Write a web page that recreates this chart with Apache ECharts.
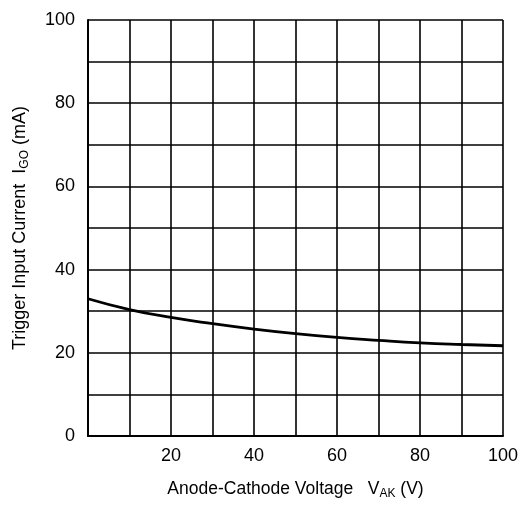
<!DOCTYPE html>
<html>
<head>
<meta charset="utf-8">
<script src="https://cdn.jsdelivr.net/npm/echarts@6/dist/echarts.min.js"></script>
<style>html,body{margin:0;padding:0;background:#fff;}#c{width:523px;height:505px;}</style>
</head>
<body>
<div id="c"></div>
<script>
const voltage = [0, 10, 20, 30, 40, 50, 60, 70, 80, 90, 100];
const current = [33.0, 30.4, 28.5, 27.0, 25.7, 24.6, 23.7, 23.0, 22.4, 22.0, 21.7];
const xTicks = [20, 40, 60, 80, 100];
const yTicks = [0, 20, 40, 60, 80, 100];
const FONT = '"Liberation Sans", Arial, sans-serif';

const chart = echarts.init(document.getElementById('c'));
chart.setOption({
  animation: false,
  grid: {left: 88, right: 20, top: 20, bottom: 69, containLabel: false, outerBoundsMode: 'none'},
  xAxis: {
    type: 'value', min: 0, max: 100, interval: 10,
    axisLine: {show: true, lineStyle: {color: '#000', width: 2}},
    axisTick: {show: false},
    splitLine: {show: true, lineStyle: {color: '#000', width: 1.6}},
    axisLabel: {
      color: '#000', fontFamily: FONT, fontSize: 18, margin: 11,
      formatter: v => xTicks.includes(v) ? String(v) : ''
    },
    name: '{a|Anode-Cathode Voltage   V}{s|AK}{a| (V)}',
    nameLocation: 'middle', nameGap: 44,
    nameTextStyle: {
      rich: {
        a: {fontFamily: FONT, fontSize: 17.5, color: '#000', lineHeight: 18, verticalAlign: 'bottom'},
        s: {fontFamily: FONT, fontSize: 12, color: '#000', lineHeight: 18, verticalAlign: 'bottom', padding: [0, 0, -2, 0]}
      }
    }
  },
  yAxis: {
    type: 'value', min: 0, max: 100, interval: 10,
    axisLine: {show: true, lineStyle: {color: '#000', width: 2}},
    axisTick: {show: false},
    splitLine: {show: true, lineStyle: {color: '#000', width: 1.6}},
    axisLabel: {
      color: '#000', fontFamily: FONT, fontSize: 18, margin: 13,
      formatter: v => yTicks.includes(v) ? String(v) : ''
    },
    name: '{a|Trigger Input Current  I}{s|GO}{a| (mA)}',
    nameLocation: 'middle', nameGap: 59,
    nameTextStyle: {
      rich: {
        a: {fontFamily: FONT, fontSize: 18, color: '#000', lineHeight: 18, verticalAlign: 'bottom'},
        s: {fontFamily: FONT, fontSize: 12, color: '#000', lineHeight: 18, verticalAlign: 'bottom', padding: [0, 0, -2, 0]}
      }
    }
  },
  series: [{
    type: 'line', smooth: true, symbol: 'none',
    data: voltage.map((v, i) => [v, current[i]]),
    lineStyle: {color: '#000', width: 2.8}
  }]
});
</script>
</body>
</html>
